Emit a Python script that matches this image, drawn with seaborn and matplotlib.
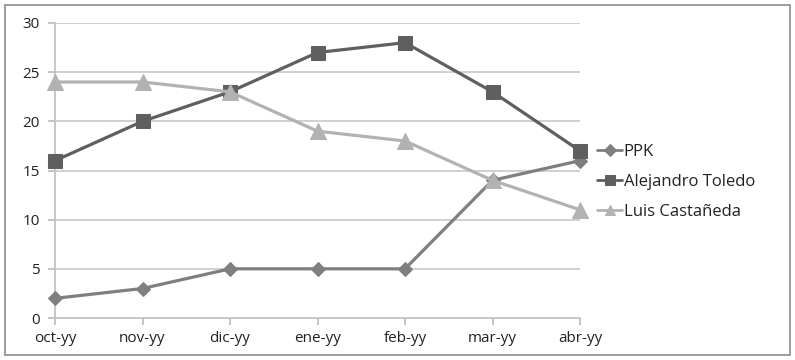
import matplotlib
matplotlib.use("Agg")
import matplotlib.pyplot as plt
from matplotlib.patches import Rectangle
import seaborn as sns
import pandas as pd

months = ["oct-yy", "nov-yy", "dic-yy", "ene-yy", "feb-yy", "mar-yy", "abr-yy"]
ppk = [2, 3, 5, 5, 5, 14, 16]
toledo = [16, 20, 23, 27, 28, 23, 17]
castaneda = [24, 24, 23, 19, 18, 14, 11]
series_names = ["PPK", "Alejandro Toledo", "Luis Castañeda"]
y_ticks = [0, 5, 10, 15, 20, 25, 30]

sns.set_theme(style="white")
plt.rcParams["font.family"] = ["Open Sans", "DejaVu Sans"]

rows = []
for name, vals in zip(series_names, [ppk, toledo, castaneda]):
    for i, v in enumerate(vals):
        rows.append({"mes": i, "valor": v, "serie": name})
df = pd.DataFrame(rows)

palette = {"PPK": "#7f7f7f", "Alejandro Toledo": "#5f5f5f", "Luis Castañeda": "#b2b2b2"}
markers = {"PPK": "D", "Alejandro Toledo": "s", "Luis Castañeda": "^"}
msizes = {"PPK": 7.5, "Alejandro Toledo": 10, "Luis Castañeda": 11}

fig = plt.figure(figsize=(7.95, 3.6), dpi=100)
ax = fig.add_axes([55 / 795, 1 - 318 / 360, (580 - 55) / 795, (318 - 23) / 360])

for name in series_names:
    sub = df[df["serie"] == name]
    sns.lineplot(data=sub, x="mes", y="valor", ax=ax, color=palette[name],
                 marker=markers[name], markersize=msizes[name],
                 markeredgecolor=palette[name], linewidth=2.3, label=name,
                 legend=False, clip_on=False)

ax.set_xlim(0, 6)
ax.set_ylim(0, 30)
ax.set_yticks(y_ticks)
ax.set_xticks(range(len(months)))
ax.set_xticklabels(months)
ax.set_xlabel("")
ax.set_ylabel("")
ax.yaxis.grid(True, color="#c8c8c8", linewidth=1.2)
ax.xaxis.grid(False)
ax.set_axisbelow(True)
for side in ["top", "right"]:
    ax.spines[side].set_visible(False)
for side in ["left", "bottom"]:
    ax.spines[side].set_color("#bdbdbd")
    ax.spines[side].set_linewidth(1.2)
    ax.spines[side].set_zorder(0.5)
ax.tick_params(axis="x", which="both", bottom=True, length=5, color="#bdbdbd",
               labelsize=11, pad=4, labelcolor="#222222")
ax.tick_params(axis="y", which="both", left=True, length=5, color="#bdbdbd",
               labelsize=11, pad=6, labelcolor="#222222")

handles, labels = ax.get_legend_handles_labels()
leg = fig.legend(handles, labels, loc="center left", bbox_to_anchor=(582 / 795, 1 - 182 / 360),
                 frameon=False, fontsize=12, handlelength=1.5, labelspacing=0.85,
                 handletextpad=0.1)
for h in leg.legend_handles:
    h.set_markersize(6.5)
    h.set_linewidth(2)
for t in leg.get_texts():
    t.set_color("#222222")

fig.patches.append(Rectangle((5 / 795, 5 / 360), 785 / 795, 350 / 360,
                             transform=fig.transFigure, fill=False,
                             edgecolor="#8c8c8c", linewidth=1.2))

fig.savefig("out.png", dpi=100)
